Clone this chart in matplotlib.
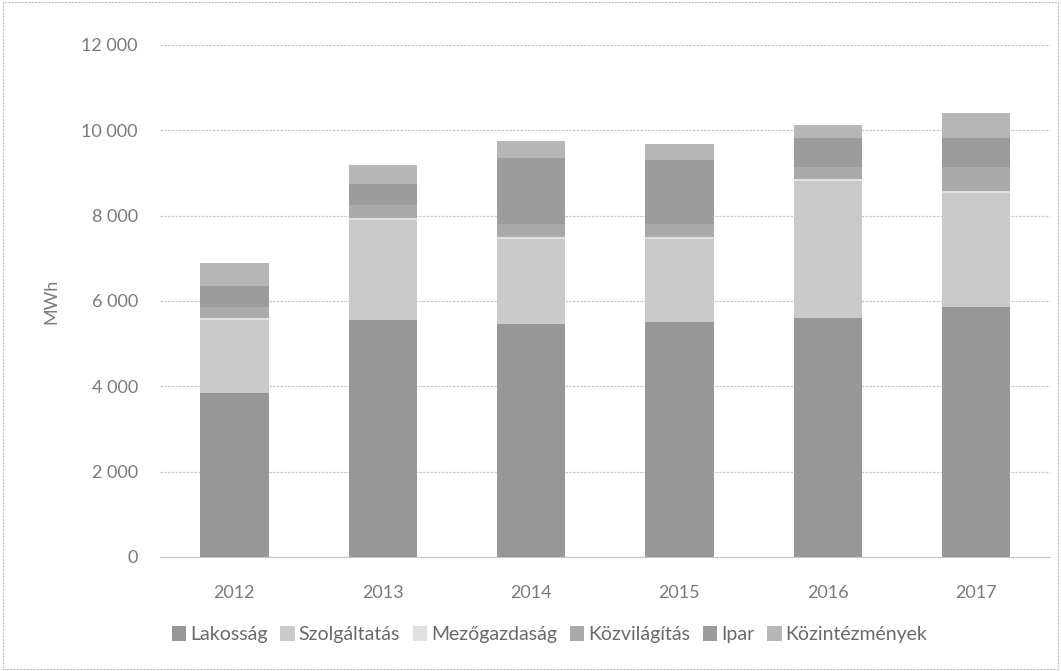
import matplotlib.pyplot as plt
import numpy as np
from matplotlib.patches import Rectangle

years = ["2012", "2013", "2014", "2015", "2016", "2017"]

lakossag = [3850, 5550, 5450, 5500, 5600, 5850]
szolgaltatas = [1700, 2350, 2000, 1950, 3200, 2680]
mezogazdasag = [50, 50, 50, 50, 50, 50]
kozvilagitas = [250, 300, 300, 300, 300, 560]
ipar = [500, 500, 1550, 1500, 670, 680]
kozintezmenyek = [530, 430, 400, 380, 310, 590]

series = [
    ("Lakosság", lakossag, "#979797"),
    ("Szolgáltatás", szolgaltatas, "#cacaca"),
    ("Mezőgazdaság", mezogazdasag, "#e0e0e0"),
    ("Közvilágítás", kozvilagitas, "#aaaaaa"),
    ("Ipar", ipar, "#9c9c9c"),
    ("Közintézmények", kozintezmenyek, "#b6b6b6"),
]

plt.rcParams["font.family"] = ["Lato", "DejaVu Sans"]

fig = plt.figure(figsize=(10.61, 6.71), dpi=100)
ax = fig.add_axes([0.151, 0.170, 0.839, 0.763])

x = np.arange(len(years))
bottom = np.zeros(len(years))
for label, values, color in series:
    ax.bar(x, values, width=0.46, bottom=bottom, color=color,
           edgecolor="none", label=label, zorder=3)
    bottom += np.array(values)

ax.set_xlim(-0.5, len(years) - 0.5)
ax.set_ylim(0, 12000)
ax.set_yticks(range(0, 12001, 2000))
ax.set_yticklabels([f"{v:,}".replace(",", " ") for v in range(0, 12001, 2000)])
ax.set_xticks(x)
ax.set_xticklabels(years)
ax.tick_params(axis="both", length=0, labelsize=13, labelcolor="#7a7a7a")
ax.tick_params(axis="y", pad=16)
ax.tick_params(axis="x", pad=20)

ax.yaxis.grid(True, color="#c8c8c8", linewidth=0.9, linestyle=(0, (2, 1)))
ax.set_axisbelow(True)
for side in ["top", "right", "left"]:
    ax.spines[side].set_visible(False)
ax.spines["bottom"].set_color("#c8c8c8")

ax.set_ylabel("MWh", fontsize=13, color="#7a7a7a", labelpad=16)

handles, labels = ax.get_legend_handles_labels()
fig.legend(handles, labels, loc="center", bbox_to_anchor=(0.518, 0.054),
           ncol=6, frameon=False, fontsize=14, handlelength=0.75,
           handleheight=0.75, handletextpad=0.2, columnspacing=0.65,
           labelcolor="#6a6a6a")

fig.patches.append(Rectangle((0.003, 0.003), 0.994, 0.994,
                             transform=fig.transFigure, fill=False,
                             edgecolor="#bdbdbd", linewidth=0.8,
                             linestyle=(0, (2, 1))))

fig.savefig("out.png", dpi=100)
